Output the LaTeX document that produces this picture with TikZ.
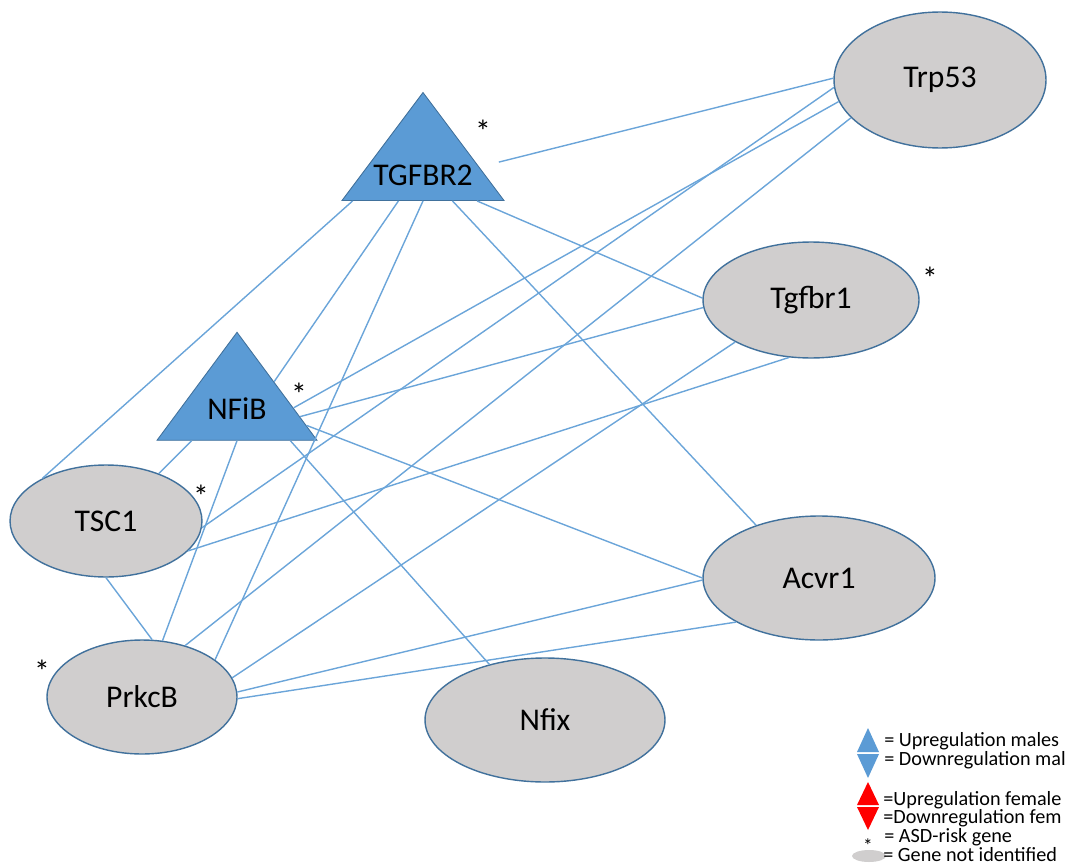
\documentclass[tikz,border=0pt]{standalone}
\usepackage{fontspec}
\setmainfont{Carlito}
\usepackage{tikz}
\usetikzlibrary{shapes,calc,positioning}

\definecolor{officeblue}{HTML}{5B9BD5}
\definecolor{rimblue}{HTML}{41719C}
\definecolor{genegrey}{HTML}{D0CECE}

\begin{document}
\begin{tikzpicture}[
    x=0.02cm, y=-0.02cm,
    gene/.style={ellipse, draw=rimblue, fill=genegrey, line width=0.8pt, inner sep=0pt, font=\fontsize{18}{20}\selectfont},
    upgene/.style={isosceles triangle, isosceles triangle stretches, shape border rotate=90, draw=rimblue, fill=officeblue, line width=0.5pt, minimum width=3.24cm, minimum height=2.16cm, inner sep=0pt},
    genelabel/.style={font=\fontsize{18}{20}\selectfont, inner sep=0pt},
    risk/.style={font=\fontsize{18}{20}\selectfont, inner sep=0pt},
    link/.style={officeblue!90!white, line width=0.8pt},
    legend/.style={anchor=west, inner sep=0pt, font=\fontsize{11.5}{12}\selectfont}
]
    \clip (0,0) rectangle (1071,865);

    \node[gene, minimum width=4.24cm, minimum height=2.72cm] (trp53) at (940,80) {Trp53};
    \node[gene, minimum width=4.32cm, minimum height=2.32cm] (tgfbr1) at (811,300) {Tgfbr1};
    \node[gene, minimum width=4.64cm, minimum height=2.48cm] (acvr1) at (819,578) {Acvr1};
    \node[gene, minimum width=4.8cm, minimum height=2.48cm] (nfix) at (545,720) {Nfix};
    \node[gene, minimum width=3.8cm, minimum height=2.28cm] (prkcb) at (142,697) {PrkcB};
    \node[gene, minimum width=3.84cm, minimum height=2.24cm] (tsc1) at (106,521) {TSC1};

    \node[upgene, label={[genelabel, label distance=-0.72cm]below:TGFBR2}] (tgfbr2) at (423,160) {};
    \node[upgene, minimum width=3.2cm, label={[genelabel, label distance=-0.86cm]below:NFiB}] (nfib) at (237,400) {};

    \node[risk] (tgfbr2risk) at (483,131) {*};
    \node[risk] (nfibrisk) at (299,394) {*};
    \node[risk] (tsc1risk) at (201,496) {*};
    \node[risk] (prkcbrisk) at (42,671) {*};
    \node[risk] (tgfbr1risk) at (930,278) {*};

    \draw[link, shorten >=0.4cm] (trp53.179) -- ($(tgfbr2.apex)!0.69!(tgfbr2.right corner)$);
    \draw[link] ($(tgfbr2.left corner)!0.07!(tgfbr2.right corner)$) -- (tsc1.146);
    \draw[link] ($(tgfbr2.left corner)!0.35!(tgfbr2.right corner)$) -- ($(nfib.apex)!0.46!(nfib.right corner)$);
    \draw[link] (tgfbr2.lower side) -- (prkcb.27);
    \draw[link] ($(tgfbr2.left corner)!0.68!(tgfbr2.right corner)$) -- (acvr1.140);
    \draw[link] ($(tgfbr2.left corner)!0.83!(tgfbr2.right corner)$) -- (tgfbr1.179);
    \draw[link] (trp53.184) -- (tsc1.-4);
    \draw[link] (trp53.192) -- ($(nfib.apex)!0.7!(nfib.right corner)$);
    \draw[link] (trp53.203) -- (prkcb.50);
    \draw[link] (tgfbr1.184) -- ($(nfib.apex)!0.78!(nfib.right corner)$);
    \draw[link] (tgfbr1.209) -- (prkcb.12);
    \draw[link] (tgfbr1.249) -- (tsc1.-20);
    \draw[link] ($(nfib.apex)!0.86!(nfib.right corner)$) -- (acvr1.west);
    \draw[link] ($(nfib.left corner)!0.83!(nfib.right corner)$) -- (nfix.135);
    \draw[link] (nfib.lower side) -- (prkcb.70);
    \draw[link] ($(nfib.left corner)!0.22!(nfib.right corner)$) -- (tsc1.42);
    \draw[link] (acvr1.181) -- (prkcb.3);
    \draw[link] (acvr1.208) -- (prkcb.-1);
    \draw[link] (tsc1.270) -- (prkcb.80);

    \fill[officeblue] (857,752) -- (868,728) -- (879,752) -- cycle;
    \fill[officeblue] (857,754) -- (879,754) -- (868,778) -- cycle;
    \fill[red] (857,805) -- (868,782) -- (879,805) -- cycle;
    \fill[red] (857,807) -- (879,807) -- (868,830) -- cycle;
    \node[inner sep=0pt, font=\fontsize{11}{12}\selectfont] (keyrisk) at (868,846) {*};
    \fill[genegrey] (869,856) ellipse [x radius=17, y radius=6];

    \node[legend] (keyupm) at (884,741) {= Upregulation males};
    \node[legend] (keydownm) at (884,760) {= Downregulation mal};
    \node[legend] (keyupf) at (883,800) {=Upregulation female};
    \node[legend] (keydownf) at (883,818) {=Downregulation fem};
    \node[legend] (keyasd) at (884,837) {= ASD-risk gene};
    \node[legend] (keynone) at (883,855) {= Gene not identified};
\end{tikzpicture}
\end{document}
